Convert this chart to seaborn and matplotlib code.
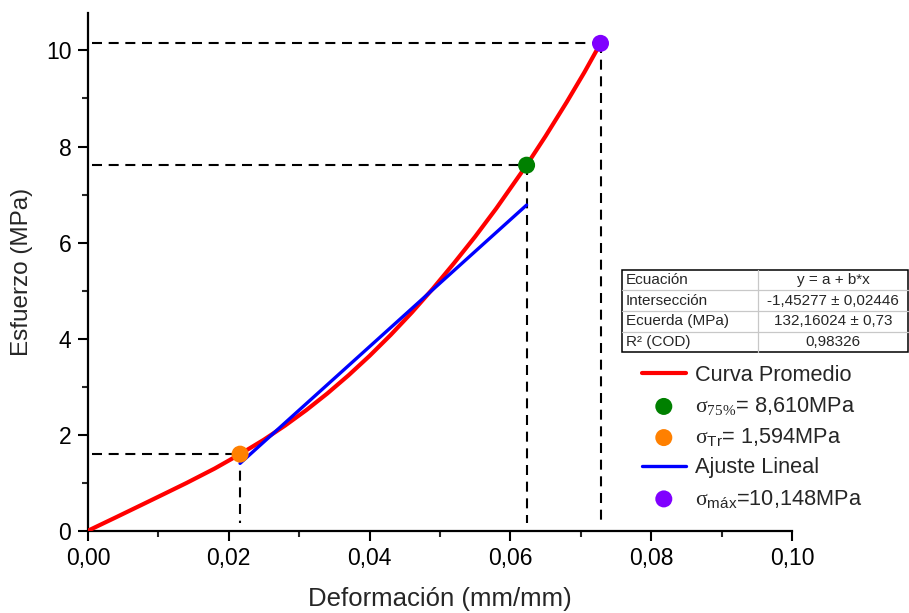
import matplotlib
matplotlib.use("Agg")
import matplotlib.pyplot as plt
import seaborn as sns
import pandas as pd
from matplotlib.patches import Rectangle
from matplotlib.lines import Line2D

# Average stress-strain curve (mm/mm, MPa)
curve_strain = [0.000, 0.004, 0.008, 0.011, 0.014, 0.018, 0.0216, 0.025,
                0.028, 0.031, 0.034, 0.037, 0.040, 0.043, 0.046, 0.049,
                0.052, 0.055, 0.058, 0.0623, 0.065, 0.068, 0.0705, 0.0728]
curve_stress = [0.000, 0.281, 0.565, 0.779, 0.994, 1.295, 1.594, 1.896,
                2.190, 2.510, 2.858, 3.235, 3.641, 4.077, 4.544, 5.043,
                5.573, 6.125, 6.712, 7.611, 8.217, 8.925, 9.543, 10.148]

# Linear chord fit between the transition point and the 75 % point
fit_intercept = -1.45277
fit_slope = 132.16024
fit_strain = [0.0216, 0.0623]

# Characteristic points
pt_tr = (0.0216, 1.594)
pt_75 = (0.0623, 7.611)
pt_max = (0.0728, 10.148)

x_ticks = [0.00, 0.02, 0.04, 0.06, 0.08, 0.10]
x_ticklabels = ["0,00", "0,02", "0,04", "0,06", "0,08", "0,10"]
y_ticks = [0, 2, 4, 6, 8, 10]
y_ticklabels = ["0", "2", "4", "6", "8", "10"]

table_rows = [
    ("Ecuación", "y = a + b*x"),
    ("Intersección", "-1,45277 ± 0,02446"),
    ("Ecuerda (MPa)", "132,16024 ± 0,73"),
    ("R² (COD)", "0,98326"),
]

sns.set_style("ticks")
plt.rcParams["font.family"] = ["Liberation Sans", "DejaVu Sans"]
plt.rcParams["mathtext.fontset"] = "custom"
plt.rcParams["mathtext.rm"] = "Liberation Serif"
plt.rcParams["mathtext.it"] = "Liberation Serif:italic"
plt.rcParams["mathtext.sf"] = "Liberation Sans"

W, H = 909, 613
fig = plt.figure(figsize=(W / 100, H / 100), dpi=100)
ax = fig.add_axes([88 / W, 1 - 530.7 / H, (792 - 88) / W, (530.7 - 13) / H])

# guide lines to the characteristic points
dash = (0, (4.8, 3.2))
for (px, py) in (pt_max, pt_75, pt_tr):
    ax.plot([0.0005, px], [py, py], color="black", lw=1.5, ls=dash, zorder=1)
    ax.plot([px, px], [py, 0.15], color="black", lw=1.5, ls=dash, zorder=1)

df_curve = pd.DataFrame({"strain": curve_strain, "stress": curve_stress})
fit_stress = [fit_intercept + fit_slope * s for s in fit_strain]
df_fit = pd.DataFrame({"strain": fit_strain, "stress": fit_stress})

sns.lineplot(data=df_curve, x="strain", y="stress", color="#FF0000", lw=3.0,
             sort=False, ax=ax, label="Curva Promedio", zorder=3)
sns.lineplot(data=df_fit, x="strain", y="stress", color="#0000FF", lw=2.4,
             sort=False, ax=ax, label="Ajuste Lineal", zorder=4)

pts = [
    (pt_75, "#008000", r"$\mathrm{σ}_{\mathrm{75\%}}$= 8,610MPa"),
    (pt_tr, "#FF8000", r"$\mathrm{σ}_{\mathsf{Tr}}$= 1,594MPa"),
    (pt_max, "#8000FF", r"$\mathrm{σ}_{\mathsf{máx}}$=10,148MPa"),
]
for (px, py), col, lab in pts:
    sns.scatterplot(x=[px], y=[py], color=col, s=150, edgecolor="none",
                    ax=ax, label=lab, zorder=5)

ax.set_xlim(0, 0.10)
ax.set_ylim(0, 10.78)
ax.set_xticks(x_ticks)
ax.set_xticklabels(x_ticklabels)
ax.set_yticks(y_ticks)
ax.set_yticklabels(y_ticklabels)
ax.set_xticks([0.01, 0.03, 0.05, 0.07, 0.09], minor=True)
ax.set_yticks([1, 3, 5, 7, 9], minor=True)
ax.tick_params(which="major", direction="out", length=7, width=1.5,
               labelsize=16.5, colors="black", pad=5)
ax.tick_params(which="minor", direction="out", length=4, width=1.5)
for side in ("top", "right"):
    ax.spines[side].set_visible(False)
for side in ("left", "bottom"):
    ax.spines[side].set_linewidth(1.6)
    ax.spines[side].set_color("black")

ax.set_xlabel("Deformación (mm/mm)", fontsize=18.5, labelpad=12)
ax.set_ylabel("Esfuerzo (MPa)", fontsize=17.5, labelpad=9)

# legend in the order: curve, 75 %, transition, fit, max
handles, labels = ax.get_legend_handles_labels()
order = ["Curva Promedio", pts[0][2], pts[1][2], "Ajuste Lineal", pts[2][2]]
hmap = dict(zip(labels, handles))
fig.legend([hmap[l] for l in order], order, loc="upper left",
           bbox_to_anchor=(642 / W, 1 - 365 / H), frameon=False,
           fontsize=15.7, handlelength=2.0, handletextpad=0.45,
           labelspacing=0.42, borderpad=0, borderaxespad=0)
if ax.get_legend() is not None:
    ax.get_legend().remove()

# statistics table
tx0, tx1, tsplit = 621.5, 908, 758
ty0, ty1 = 270, 352
row_h = (ty1 - ty0) / len(table_rows)


def fx(p):
    return p / W


def fy(p):
    return 1 - p / H


for i in range(1, len(table_rows)):
    y = ty0 + i * row_h
    fig.add_artist(Line2D([fx(tx0), fx(tx1)], [fy(y), fy(y)], color="#C8C8C8", lw=0.9))
fig.add_artist(Line2D([fx(tsplit), fx(tsplit)], [fy(ty0), fy(ty1)], color="#C8C8C8", lw=0.9))
fig.add_artist(Rectangle((fx(tx0), fy(ty1)), fx(tx1) - fx(tx0), fy(ty0) - fy(ty1),
                         fill=False, edgecolor="black", lw=1.1))
for i, (name, val) in enumerate(table_rows):
    yc = ty0 + (i + 0.5) * row_h
    fig.text(fx(tx0 + 4), fy(yc), name, fontsize=11, ha="left", va="center")
    fig.text(fx((tsplit + tx1) / 2), fy(yc), val, fontsize=11, ha="center", va="center")

fig.savefig("out.png", dpi=100)
